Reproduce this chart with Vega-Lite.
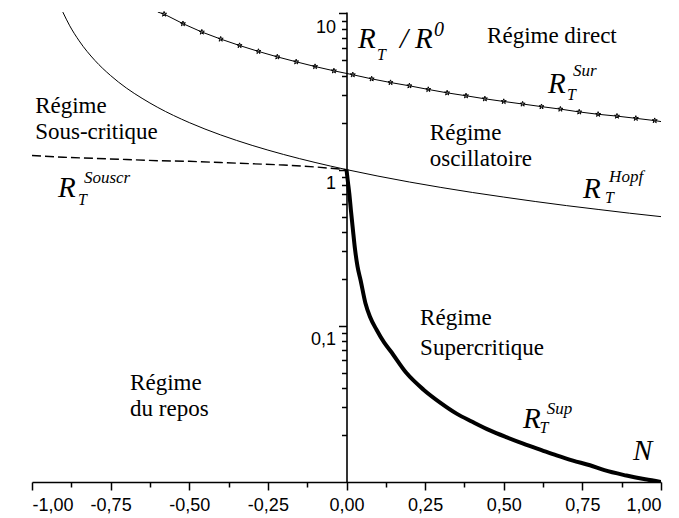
{
  "$schema": "https://vega.github.io/schema/vega-lite/v6.json",
  "width": 629,
  "height": 470,
  "autosize": "none",
  "padding": {"left": 32, "top": 12, "right": 18, "bottom": 36},
  "background": "white",
  "config": {
    "view": {"stroke": null},
    "axis": {"grid": false, "title": null, "domainColor": "black", "tickColor": "black", "labelColor": "black", "labelFont": "Liberation Sans", "labelFontSize": 18, "domainWidth": 1.6, "tickWidth": 1.5}
  },
  "resolve": {"axis": {"x": "independent", "y": "independent"}},
  "layer": [
    {
      "data": {"values": [
        {"x": -0.902, "y": 10.2}, {"x": -0.88, "y": 8.33}, {"x": -0.85, "y": 6.67}, {"x": -0.8, "y": 5.0},
        {"x": -0.75, "y": 4.0}, {"x": -0.7, "y": 3.33}, {"x": -0.65, "y": 2.86}, {"x": -0.6, "y": 2.5},
        {"x": -0.5, "y": 2.0}, {"x": -0.4, "y": 1.667}, {"x": -0.3, "y": 1.429}, {"x": -0.2, "y": 1.25},
        {"x": -0.1, "y": 1.111}, {"x": 0.0, "y": 1.0}, {"x": 0.1, "y": 0.909}, {"x": 0.2, "y": 0.833},
        {"x": 0.3, "y": 0.769}, {"x": 0.4, "y": 0.714}, {"x": 0.5, "y": 0.667}, {"x": 0.6, "y": 0.625},
        {"x": 0.7, "y": 0.588}, {"x": 0.8, "y": 0.556}, {"x": 0.9, "y": 0.526}, {"x": 1.0, "y": 0.5}
      ]},
      "mark": {"type": "line", "color": "black", "strokeWidth": 1, "clip": true, "interpolate": "monotone"},
      "encoding": {
        "x": {"field": "x", "type": "quantitative", "scale": {"domain": [-1, 1], "nice": false, "zero": false},
          "axis": {"orient": "bottom", "values": [-1, -0.75, -0.5, -0.25, 0, 0.25, 0.5, 0.75, 1], "tickSize": 8, "labelPadding": 6,
            "labelExpr": "(datum.value < 0 ? '-' : '') + replace(format(abs(datum.value), '.2f'), '.', ',')"}},
        "y": {"field": "y", "type": "quantitative", "scale": {"type": "log", "domain": [0.01, 10.21], "nice": false},
          "axis": {"orient": "left", "offset": -314.5, "values": [0.1, 1, 10], "tickSize": 8, "labelOffset": 14, "labelPadding": 3,
            "labelExpr": "datum.value < 0.5 ? '0,1' : (datum.value < 5 ? '1' : '10')"}}
      }
    },
    {
      "data": {"values": [
        {"x": -1.0, "y": 1.23}, {"x": -0.9, "y": 1.2}, {"x": -0.8, "y": 1.18}, {"x": -0.7, "y": 1.16},
        {"x": -0.6, "y": 1.14}, {"x": -0.5, "y": 1.13}, {"x": -0.4, "y": 1.11}, {"x": -0.3, "y": 1.09},
        {"x": -0.2, "y": 1.07}, {"x": -0.1, "y": 1.04}, {"x": 0.0, "y": 1.0}
      ]},
      "mark": {"type": "line", "color": "black", "strokeWidth": 1.4, "strokeDash": [9, 4]},
      "encoding": {
        "x": {"field": "x", "type": "quantitative", "axis": {"orient": "bottom", "values": [-0.875, -0.625, -0.375, -0.125, 0.125, 0.375, 0.625, 0.875], "tickSize": 5, "labels": false, "domain": false}},
        "y": {"field": "y", "type": "quantitative", "scale": {"type": "log"},
          "axis": {"orient": "left", "offset": -314.5, "tickSize": 5, "labels": false, "domain": false,
            "values": [0.02, 0.03, 0.04, 0.05, 0.06, 0.07, 0.08, 0.09, 0.2, 0.3, 0.4, 0.5, 0.6, 0.7, 0.8, 0.9, 2, 3, 4, 5, 6, 7, 8, 9]}}
      }
    },
    {
      "data": {"values": [
        {"x": 0.0, "y": 1.0}, {"x": 0.004, "y": 0.85}, {"x": 0.009, "y": 0.7}, {"x": 0.014, "y": 0.55},
        {"x": 0.02, "y": 0.42}, {"x": 0.027, "y": 0.31}, {"x": 0.035, "y": 0.24}, {"x": 0.045, "y": 0.195},
        {"x": 0.06, "y": 0.14}, {"x": 0.075, "y": 0.114}, {"x": 0.096, "y": 0.094}, {"x": 0.12, "y": 0.078},
        {"x": 0.14, "y": 0.069}, {"x": 0.19, "y": 0.05}, {"x": 0.245, "y": 0.039}, {"x": 0.3, "y": 0.032},
        {"x": 0.35, "y": 0.0274}, {"x": 0.4, "y": 0.0243}, {"x": 0.456, "y": 0.0214}, {"x": 0.51, "y": 0.0193},
        {"x": 0.562, "y": 0.0176}, {"x": 0.62, "y": 0.016}, {"x": 0.668, "y": 0.0148}, {"x": 0.72, "y": 0.0137},
        {"x": 0.774, "y": 0.0128}, {"x": 0.82, "y": 0.0119}, {"x": 0.89, "y": 0.011}, {"x": 0.95, "y": 0.0104},
        {"x": 1.0, "y": 0.01}
      ]},
      "mark": {"type": "line", "color": "black", "strokeWidth": 4, "clip": true, "interpolate": "monotone"},
      "encoding": {
        "x": {"field": "x", "type": "quantitative", "axis": null},
        "y": {"field": "y", "type": "quantitative", "axis": null}
      }
    },
    {
      "data": {"name": "sur", "values": [
        {"x": -0.6, "y": 10.2},
        {"x": -0.58, "y": 9.9}, {"x": -0.52, "y": 8.6}, {"x": -0.46, "y": 7.6}, {"x": -0.4, "y": 6.85},
        {"x": -0.34, "y": 6.23}, {"x": -0.28, "y": 5.71}, {"x": -0.22, "y": 5.27}, {"x": -0.16, "y": 4.9},
        {"x": -0.1, "y": 4.57}, {"x": -0.04, "y": 4.29}, {"x": 0.02, "y": 4.05}, {"x": 0.08, "y": 3.81},
        {"x": 0.14, "y": 3.61}, {"x": 0.2, "y": 3.44}, {"x": 0.26, "y": 3.26}, {"x": 0.32, "y": 3.1},
        {"x": 0.38, "y": 2.97}, {"x": 0.44, "y": 2.84}, {"x": 0.5, "y": 2.73}, {"x": 0.56, "y": 2.63},
        {"x": 0.62, "y": 2.53}, {"x": 0.68, "y": 2.44}, {"x": 0.74, "y": 2.34}, {"x": 0.8, "y": 2.26},
        {"x": 0.86, "y": 2.2}, {"x": 0.92, "y": 2.13}, {"x": 0.98, "y": 2.06}, {"x": 1.0, "y": 2.03}
      ]},
      "layer": [
        {
          "mark": {"type": "line", "color": "black", "strokeWidth": 1, "clip": true},
          "encoding": {
            "x": {"field": "x", "type": "quantitative", "axis": null},
            "y": {"field": "y", "type": "quantitative", "axis": null}
          }
        },
        {
          "transform": [{"filter": "datum.x > -0.59 && datum.x < 0.99"}],
          "mark": {"type": "point", "shape": "M0,-1L0.2245,-0.309L0.951,-0.309L0.363,0.118L0.588,0.809L0,0.382L-0.588,0.809L-0.363,0.118L-0.951,-0.309L-0.2245,-0.309Z", "size": 28, "filled": false, "stroke": "black", "strokeWidth": 1, "opacity": 1},
          "encoding": {
            "x": {"field": "x", "type": "quantitative", "axis": null},
            "y": {"field": "y", "type": "quantitative", "axis": null}
          }
        }
      ]
    },
    {
      "data": {"values": [
        {"x": 0.447, "y": 6.49, "t": "Régime direct"},
        {"x": -0.99, "y": 2.31, "t": "Régime"}, {"x": -0.99, "y": 1.574, "t": "Sous-critique"},
        {"x": 0.265, "y": 1.55, "t": "Régime"}, {"x": 0.265, "y": 1.057, "t": "oscillatoire"},
        {"x": 0.234, "y": 0.101, "t": "Régime"}, {"x": 0.234, "y": 0.0649, "t": "Supercritique"},
        {"x": -0.688, "y": 0.0387, "t": "Régime"}, {"x": -0.688, "y": 0.0264, "t": "du repos"}
      ]},
      "mark": {"type": "text", "font": "Liberation Serif", "fontSize": 23, "align": "left", "baseline": "alphabetic", "color": "black"},
      "encoding": {
        "x": {"field": "x", "type": "quantitative", "axis": null},
        "y": {"field": "y", "type": "quantitative", "axis": null},
        "text": {"field": "t"}
      }
    },
    {
      "data": {"values": [
        {"x": 0.0366, "y": 6.03, "t": "R"}, {"x": 0.17, "y": 6.03, "t": "/"}, {"x": 0.218, "y": 6.03, "t": "R"},
        {"x": -0.917, "y": 0.668, "t": "R"}, {"x": 0.752, "y": 0.657, "t": "R"},
        {"x": 0.641, "y": 3.1, "t": "R"}, {"x": 0.561, "y": 0.0221, "t": "R"}, {"x": 0.911, "y": 0.01377, "t": "N"}
      ]},
      "mark": {"type": "text", "font": "Liberation Serif", "fontStyle": "italic", "fontSize": 29, "align": "left", "baseline": "alphabetic", "color": "black"},
      "encoding": {
        "x": {"field": "x", "type": "quantitative", "axis": null},
        "y": {"field": "y", "type": "quantitative", "axis": null},
        "text": {"field": "t"}
      }
    },
    {
      "data": {"values": [
        {"x": 0.097, "y": 5.05, "t": "T"}, {"x": -0.854, "y": 0.594, "t": "T"}, {"x": 0.822, "y": 0.612, "t": "T"},
        {"x": 0.701, "y": 2.8, "t": "T"}, {"x": 0.614, "y": 0.0205, "t": "T"}
      ]},
      "mark": {"type": "text", "font": "Liberation Serif", "fontStyle": "italic", "fontSize": 16, "align": "left", "baseline": "alphabetic", "color": "black"},
      "encoding": {
        "x": {"field": "x", "type": "quantitative", "axis": null},
        "y": {"field": "y", "type": "quantitative", "axis": null},
        "text": {"field": "t"}
      }
    },
    {
      "data": {"values": [
        {"x": -0.835, "y": 0.822, "t": "Souscr"}, {"x": 0.835, "y": 0.832, "t": "Hopf"},
        {"x": 0.72, "y": 3.99, "t": "Sur"}, {"x": 0.637, "y": 0.0272, "t": "Sup"}
      ]},
      "mark": {"type": "text", "font": "Liberation Serif", "fontStyle": "italic", "fontSize": 17, "align": "left", "baseline": "alphabetic", "color": "black"},
      "encoding": {
        "x": {"field": "x", "type": "quantitative", "axis": null},
        "y": {"field": "y", "type": "quantitative", "axis": null},
        "text": {"field": "t"}
      }
    },
    {
      "data": {"values": [{"x": 0.278, "y": 7.19, "t": "0"}]},
      "mark": {"type": "text", "font": "Liberation Serif", "fontStyle": "italic", "fontSize": 20, "align": "left", "baseline": "alphabetic", "color": "black"},
      "encoding": {
        "x": {"field": "x", "type": "quantitative", "axis": null},
        "y": {"field": "y", "type": "quantitative", "axis": null},
        "text": {"field": "t"}
      }
    }
  ]
}
